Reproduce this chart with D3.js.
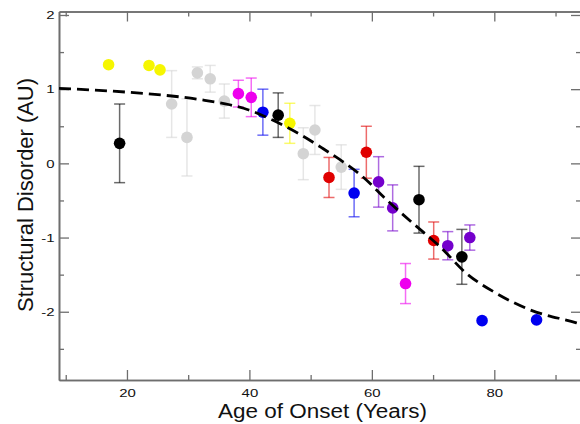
<!DOCTYPE html>
<html>
<head>
<meta charset="utf-8">
<script src="https://cdn.jsdelivr.net/npm/d3@7"></script>
<style>
  html, body { margin: 0; padding: 0; background: #fff; }
  svg { display: block; font-family: "Liberation Sans", Arial, Helvetica, sans-serif; }
</style>
</head>
<body>
<svg id="chart" width="580" height="424"></svg>
<script>
// ---- data ----
const ages     = [17.0, 23.6, 25.4, 18.8, 27.3, 29.8, 31.5, 33.6, 35.9, 38.2, 40.3, 42.2, 44.7, 46.6, 48.8, 50.7, 53.0, 55.0, 57.1, 59.1, 61.1, 63.4, 65.5, 67.7, 70.1, 72.4, 74.7, 76.0, 78.0, 86.9];
const disorder = [1.33, 1.32, 1.26, 0.27, 0.80, 0.35, 1.22, 1.14, 0.84, 0.94, 0.89, 0.69, 0.65, 0.54, 0.13, 0.45, -0.19, -0.05, -0.40, 0.15, -0.25, -0.60, -1.62, -0.49, -1.04, -1.11, -1.26, -1.00, -2.12, -2.11];
const errors   = [0, 0, 0, 0.53, 0.45, 0.52, 0.08, 0.18, 0.23, 0.18, 0.26, 0.31, 0.30, 0.27, 0.35, 0.33, 0.27, 0.30, 0.32, 0.35, 0.34, 0.31, 0.27, 0.45, 0.25, 0.19, 0.37, 0.17, 0, 0];
const groups   = ["Y","Y","Y","K","G","G","G","G","G","M","M","B","K","Y","G","G","R","G","B","R","P","P","M","K","R","P","K","P","B","B"];

const fitAges   = [8.9, 20, 31.9, 36.8, 39.9, 43.6, 48.5, 52.0, 55.3, 58.5, 62.4, 67.3, 71.1, 75.4, 80.3, 85.7, 93.4, 94.2];
const fitValues = [1.01, 0.96, 0.86, 0.79, 0.72, 0.59, 0.38, 0.20, 0.02, -0.18, -0.49, -0.85, -1.12, -1.48, -1.75, -1.97, -2.15, -2.17];

const xTickValues = [20, 40, 60, 80];
const xMinorTicks = [10, 30, 50, 70, 90];
const yTickValues = [-2, -1, 0, 1, 2];
const yMinorTicks = [-2.5, -1.5, -0.5, 0.5, 1.5];

const xLabel = "Age of Onset (Years)";
const yLabel = "Structural Disorder (AU)";

// ---- rendering ----
const svg = d3.select("#chart");
const L = 59, R = 581, T = 11.5, B = 380;
const x = d3.scaleLinear().domain([8.9, 94.16]).range([L, R]);
const y = d3.scaleLinear().domain([-2.92, 2.047]).range([B, T]);

const color = d3.scaleOrdinal()
  .domain(["Y","K","G","M","B","R","P"])
  .range(["#f6f600", "#000000", "#d4d4d4", "#ee00ee", "#0000f0", "#e00000", "#7400cc"]);

const axisColor = "#6e6e6e";
const fmt = v => String(v); // plain hyphen-minus like the reference
function styleAxis(g, showText) {
  g.select(".domain").attr("stroke", axisColor).attr("stroke-width", 1.6);
  g.selectAll(".tick line").attr("stroke", axisColor).attr("stroke-width", 1.3);
  g.selectAll(".tick text").attr("fill", "#111").style("font-size", "11.5px")
    .style("font-family", "'Liberation Sans', Arial, Helvetica, sans-serif");
  if (!showText) g.selectAll(".tick text").remove();
}

// bottom
svg.append("g").attr("transform", `translate(0,${B})`)
  .call(d3.axisBottom(x).tickValues(xTickValues).tickSizeInner(-10).tickSizeOuter(0).tickPadding(9).tickFormat(fmt))
  .call(g => styleAxis(g, true))
  .call(g => g.selectAll(".tick text").attr("transform", "scale(1.3,1)"));
svg.append("g").attr("transform", `translate(0,${B})`)
  .call(d3.axisBottom(x).tickValues(xMinorTicks).tickSizeInner(-5).tickSizeOuter(0).tickFormat(""))
  .call(g => styleAxis(g, false));
// top
svg.append("g").attr("transform", `translate(0,${T})`)
  .call(d3.axisTop(x).tickValues(xTickValues).tickSizeInner(-10).tickSizeOuter(0).tickFormat(""))
  .call(g => styleAxis(g, false));
svg.append("g").attr("transform", `translate(0,${T})`)
  .call(d3.axisTop(x).tickValues(xMinorTicks).tickSizeInner(-5).tickSizeOuter(0).tickFormat(""))
  .call(g => styleAxis(g, false));
// left
svg.append("g").attr("transform", `translate(${L},0)`)
  .call(d3.axisLeft(y).tickValues(yTickValues).tickSizeInner(-10).tickSizeOuter(0).tickPadding(4.5).tickFormat(fmt))
  .call(g => styleAxis(g, true))
  .call(g => g.selectAll(".tick text").attr("x", 0).attr("transform", "translate(-4.5,0) scale(1.3,1)"));
svg.append("g").attr("transform", `translate(${L},0)`)
  .call(d3.axisLeft(y).tickValues(yMinorTicks).tickSizeInner(-5).tickSizeOuter(0).tickFormat(""))
  .call(g => styleAxis(g, false));
// right
svg.append("g").attr("transform", `translate(${R},0)`)
  .call(d3.axisRight(y).tickValues(yTickValues).tickSizeInner(-10).tickSizeOuter(0).tickFormat(""))
  .call(g => styleAxis(g, false));
svg.append("g").attr("transform", `translate(${R},0)`)
  .call(d3.axisRight(y).tickValues(yMinorTicks).tickSizeInner(-5).tickSizeOuter(0).tickFormat(""))
  .call(g => styleAxis(g, false));

// data points
const pts = ages.map((a, i) => ({ age: a, v: disorder[i], e: errors[i], g: groups[i] }));
const eb = svg.append("g").attr("class", "errorbars");
pts.filter(d => d.e > 0).forEach(d => {
  const gg = eb.append("g")
    .attr("stroke", color(d.g)).attr("stroke-opacity", 0.58).attr("stroke-width", 1.5).attr("fill", "none");
  gg.append("line").attr("x1", x(d.age)).attr("x2", x(d.age)).attr("y1", y(d.v + d.e)).attr("y2", y(d.v - d.e));
  gg.append("line").attr("x1", x(d.age) - 5.5).attr("x2", x(d.age) + 5.5).attr("y1", y(d.v + d.e)).attr("y2", y(d.v + d.e));
  gg.append("line").attr("x1", x(d.age) - 5.5).attr("x2", x(d.age) + 5.5).attr("y1", y(d.v - d.e)).attr("y2", y(d.v - d.e));
});

svg.append("g").selectAll("circle").data(pts).join("circle")
  .attr("cx", d => x(d.age)).attr("cy", d => y(d.v)).attr("r", 5.8)
  .attr("fill", d => color(d.g));

// fitted curve
const line = d3.line().x((d, i) => x(fitAges[i])).y(d => y(d)).curve(d3.curveMonotoneX);
svg.append("path").datum(fitValues)
  .attr("d", line)
  .attr("fill", "none").attr("stroke", "#000").attr("stroke-width", 2.8)
  .attr("stroke-dasharray", "12,6");

// axis titles
svg.append("text").attr("x", 322.5).attr("y", 417.5).attr("text-anchor", "middle")
  .attr("textLength", 209).attr("lengthAdjust", "spacingAndGlyphs")
  .attr("fill", "#111").style("font-size", "20px").text(xLabel);
svg.append("text").attr("transform", "translate(33,195) rotate(-90)").attr("text-anchor", "middle")
  .attr("textLength", 234).attr("lengthAdjust", "spacingAndGlyphs")
  .attr("fill", "#111").style("font-size", "21.5px").text(yLabel);
</script>
</body>
</html>
